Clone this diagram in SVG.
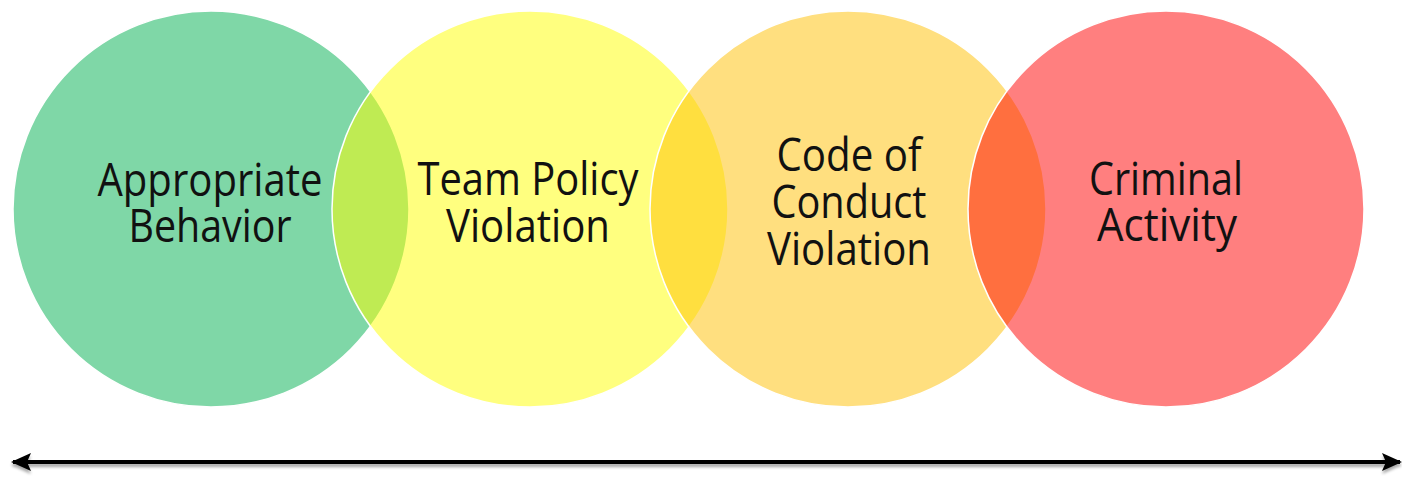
<svg xmlns="http://www.w3.org/2000/svg" width="1402" height="477" viewBox="0 0 1402 477">
<style>
.c{fill-opacity:0.5;stroke:#ffffff;stroke-width:1.5}
.t{font-family:"Open Sans","Noto Sans",sans-serif;font-size:45px;font-weight:500;fill:#111111;text-anchor:middle}
</style>
<defs>
<marker id="ah" viewBox="0 0 20 20" refX="18" refY="10" markerWidth="20" markerHeight="20" markerUnits="userSpaceOnUse" orient="auto-start-reverse">
<path d="M0,1 L20,10 L0,19 L4,10 Z" fill="#000000"/>
</marker>
<filter id="sh" filterUnits="userSpaceOnUse" x="0" y="440" width="1402" height="37">
<feGaussianBlur in="SourceAlpha" stdDeviation="1.5"/>
<feOffset dy="3" result="b"/>
<feComponentTransfer><feFuncA type="linear" slope="0.35"/></feComponentTransfer>
<feMerge><feMergeNode/><feMergeNode in="SourceGraphic"/></feMerge>
</filter>
</defs>
<rect width="1402" height="477" fill="#ffffff"/>
<g id="node-appropriate">
<circle class="c" cx="211" cy="209" r="198" fill="#00B050" stroke="none"/>
<text class="t" x="210" y="196" textLength="225" lengthAdjust="spacingAndGlyphs">Appropriate</text>
<text class="t" x="210" y="242" textLength="163" lengthAdjust="spacingAndGlyphs">Behavior</text>
</g>
<g id="node-team">
<circle class="c" cx="530" cy="209" r="198" fill="#FFFF00"/>
<text class="t" x="528" y="195" textLength="221" lengthAdjust="spacingAndGlyphs">Team Policy</text>
<text class="t" x="528" y="242" textLength="164" lengthAdjust="spacingAndGlyphs">Violation</text>
</g>
<g id="node-code">
<circle class="c" cx="848" cy="209" r="198" fill="#FFC000"/>
<text class="t" x="849" y="171" textLength="145" lengthAdjust="spacingAndGlyphs">Code of</text>
<text class="t" x="849" y="218" textLength="155" lengthAdjust="spacingAndGlyphs">Conduct</text>
<text class="t" x="849" y="265" textLength="164" lengthAdjust="spacingAndGlyphs">Violation</text>
</g>
<g id="node-criminal">
<circle class="c" cx="1166" cy="209" r="198" fill="#FF0000"/>
<text class="t" x="1166" y="195" textLength="154" lengthAdjust="spacingAndGlyphs">Criminal</text>
<text class="t" x="1167" y="241" textLength="140" lengthAdjust="spacingAndGlyphs">Activity</text>
</g>
<g id="connectors" filter="url(#sh)">
<line x1="13" y1="462" x2="1400" y2="462" stroke="#000000" stroke-width="4" marker-start="url(#ah)" marker-end="url(#ah)"/>
</g>
</svg>
